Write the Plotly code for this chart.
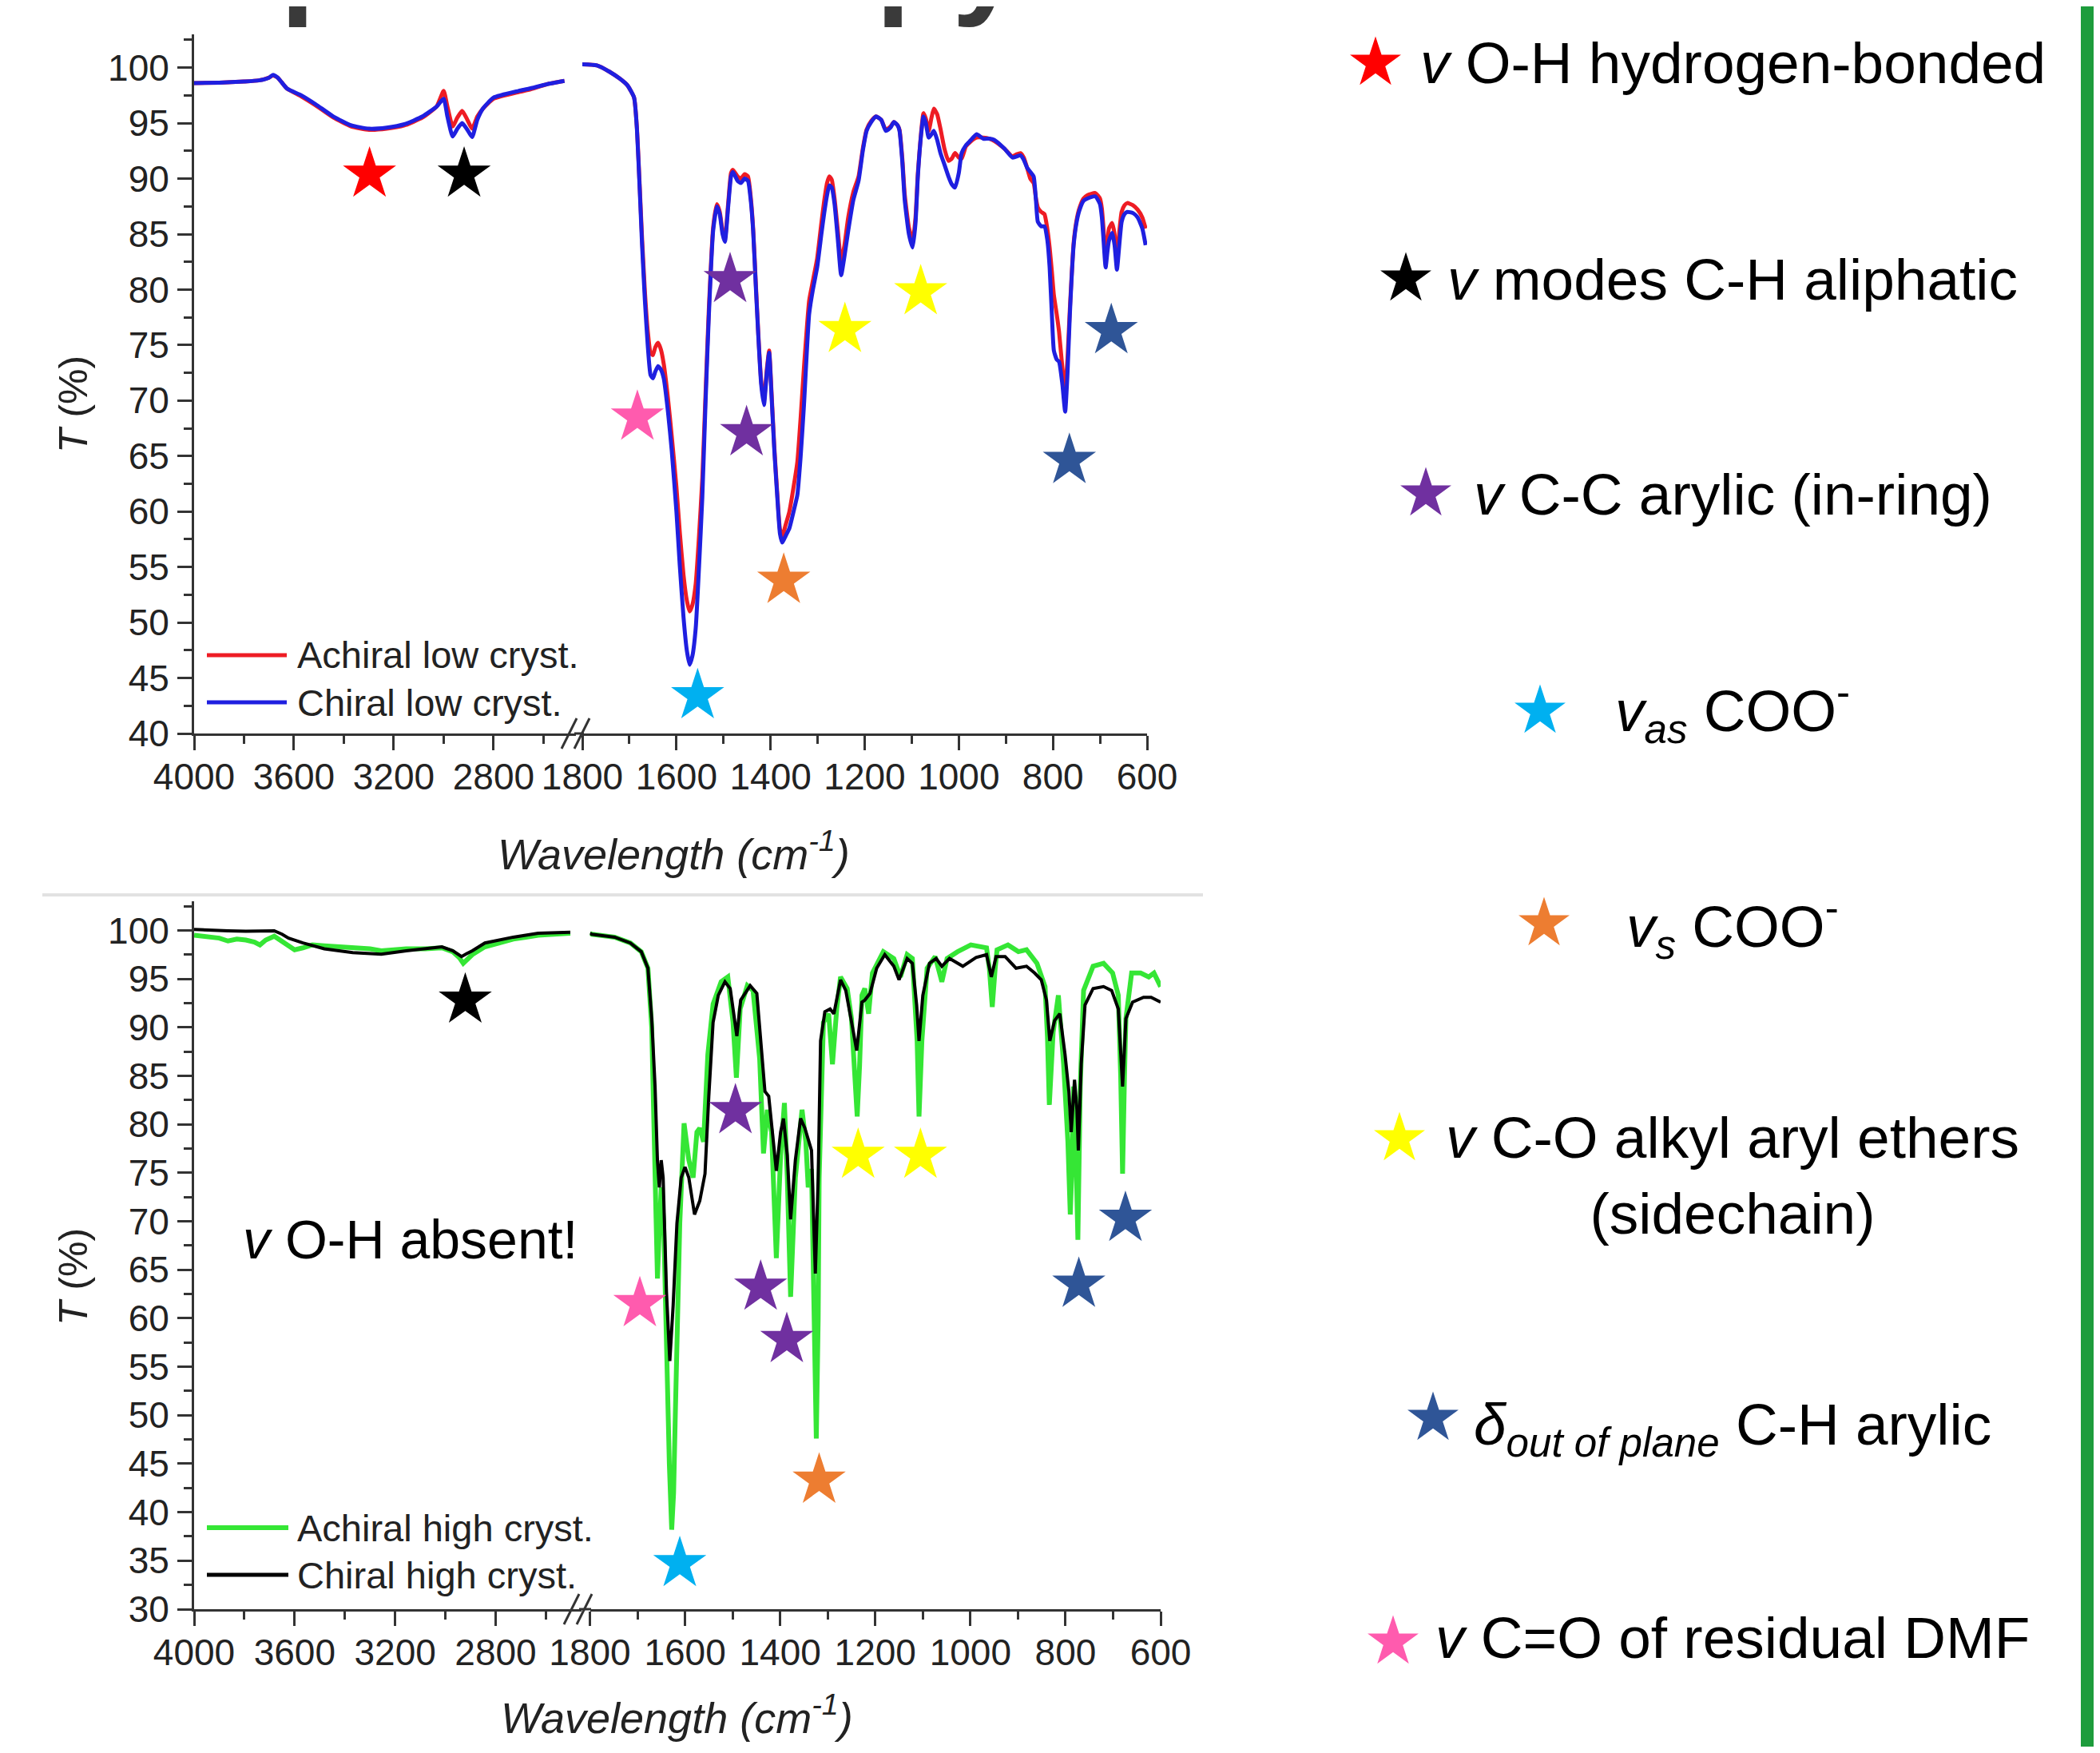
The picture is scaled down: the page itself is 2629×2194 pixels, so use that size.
import plotly.graph_objects as go

# Screen size is 2629x2194; the page body keeps an 8 px margin, so the figure is
# made 8 px smaller on the right and 16 px smaller at the bottom to fit exactly.
SCREEN_W, SCREEN_H, OFF = 2629, 2194, 8
WF, HF = SCREEN_W - OFF, SCREEN_H - 2 * OFF
FONT = "Liberation Sans, Arial, Helvetica, sans-serif"

# ---------------- data (wavenumber cm-1, transmittance %) ----------------
# Top panel, left segment: (wn, achiral low cryst., chiral low cryst.)
TL_LOW = [
    (4000, 98.6, 98.6), (3900, 98.65, 98.65), (3800, 98.75, 98.75), (3741, 98.85, 98.85),
    (3700, 99.1, 99.1), (3684, 99.3, 99.35), (3665, 99.1, 99.1), (3650, 98.7, 98.7),
    (3627, 98.1, 98.1), (3570, 97.4, 97.5), (3513, 96.6, 96.7), (3442, 95.5, 95.6),
    (3370, 94.7, 94.8), (3299, 94.4, 94.5), (3228, 94.5, 94.6), (3157, 94.8, 94.9),
    (3085, 95.5, 95.6), (3028, 96.5, 96.5), (3000, 97.9, 97.2), (2985, 96.5, 95.6),
    (2964, 94.7, 93.8), (2945, 95.5, 94.5), (2926, 96.1, 95.0), (2905, 95.3, 94.4),
    (2886, 94.5, 93.75), (2865, 95.6, 95.3), (2843, 96.3, 96.3), (2800, 97.2, 97.3),
    (2700, 97.8, 97.9), (2658, 98.0, 98.1), (2587, 98.5, 98.5), (2516, 98.8, 98.8),
]
# Top panel, right segment: (wn, achiral low cryst., chiral low cryst.)
TR_LOW = [
    (1800, 100.3, 100.3), (1769, 100.2, 100.2), (1741, 99.6, 99.6), (1720, 99.0, 99.0),
    (1704, 98.4, 98.4), (1690, 97.3, 97.3), (1684, 94.6, 94.5), (1678, 89.3, 89.0),
    (1673, 84.6, 84.0), (1667, 79.8, 79.0), (1661, 76.3, 75.0), (1655, 74.3, 72.3),
    (1650, 74.1, 72.0), (1645, 74.8, 72.6), (1639, 75.2, 73.1), (1633, 74.6, 72.8),
    (1627, 73.3, 72.0), (1618, 70.2, 69.0), (1610, 66.8, 65.5), (1600, 62.2, 60.0),
    (1593, 58.2, 55.2), (1585, 54.3, 50.5), (1578, 52.0, 47.5), (1572, 51.0, 46.2),
    (1566, 51.6, 47.0), (1559, 53.5, 49.5), (1552, 57.8, 55.0), (1545, 63.0, 61.3),
    (1538, 70.8, 70.0), (1531, 78.4, 77.8), (1522, 85.6, 85.3), (1514, 87.7, 87.5),
    (1508, 87.0, 86.8), (1502, 85.3, 85.0), (1497, 84.6, 84.3), (1490, 87.8, 87.5),
    (1484, 90.5, 90.2), (1480, 90.8, 90.6), (1470, 90.2, 89.8), (1463, 90.0, 89.6),
    (1455, 90.4, 90.0), (1448, 90.2, 89.8), (1442, 88.3, 88.0), (1437, 85.5, 85.3),
    (1431, 80.3, 80.0), (1426, 76.0, 75.8), (1420, 71.8, 71.5), (1414, 70.0, 69.6),
    (1408, 72.8, 72.5), (1403, 74.5, 74.3), (1398, 70.8, 70.5), (1392, 65.8, 65.5),
    (1386, 61.8, 61.5), (1380, 58.4, 58.0), (1375, 57.8, 57.2), (1368, 58.8, 57.8),
    (1360, 60.0, 58.5), (1350, 62.5, 60.2), (1343, 64.5, 61.5), (1336, 68.5, 65.0),
    (1329, 73.0, 69.6), (1318, 79.0, 77.8), (1310, 80.8, 80.0), (1301, 82.8, 82.0),
    (1292, 86.0, 85.0), (1286, 88.0, 86.9), (1280, 89.6, 88.5), (1275, 90.2, 89.4),
    (1270, 89.9, 89.2), (1264, 88.2, 87.7), (1257, 85.3, 84.5), (1250, 82.5, 81.3),
    (1243, 84.0, 83.0), (1235, 86.5, 85.3), (1224, 88.8, 88.1), (1213, 90.2, 89.8),
    (1204, 92.7, 92.5), (1196, 94.4, 94.3), (1186, 95.2, 95.1), (1176, 95.6, 95.6),
    (1165, 95.3, 95.3), (1155, 94.4, 94.3), (1145, 94.7, 94.6), (1138, 95.1, 95.1),
    (1130, 94.8, 94.8), (1126, 94.4, 94.3), (1120, 91.8, 91.5), (1115, 88.6, 88.1),
    (1106, 85.6, 85.0), (1098, 84.4, 83.8), (1092, 86.5, 86.0), (1087, 90.5, 90.2),
    (1080, 94.2, 94.0), (1075, 95.9, 95.6), (1070, 95.4, 95.0), (1064, 94.3, 93.7),
    (1058, 95.5, 94.0), (1053, 96.3, 94.3), (1046, 95.8, 93.5), (1039, 94.5, 92.3),
    (1030, 92.6, 91.2), (1022, 91.6, 90.2), (1015, 91.8, 89.5), (1008, 92.3, 89.2),
    (1000, 91.9, 90.5), (994, 91.8, 92.3), (985, 92.9, 93.0), (976, 93.3, 93.4),
    (962, 93.7, 94.0), (948, 93.7, 93.6), (935, 93.6, 93.6), (925, 93.4, 93.5),
    (903, 92.7, 92.7), (886, 92.0, 91.9), (877, 92.2, 92.0), (869, 92.3, 92.1),
    (862, 91.9, 91.7), (855, 91.0, 91.0), (848, 90.0, 90.6), (841, 89.6, 90.2),
    (836, 88.2, 88.0), (832, 87.4, 86.1), (825, 87.0, 85.7), (818, 86.8, 85.7),
    (812, 85.5, 84.5), (807, 83.8, 82.0), (802, 81.5, 77.5), (798, 79.5, 74.5),
    (792, 77.8, 73.7), (787, 76.2, 73.5), (780, 73.0, 71.5), (774, 71.0, 69.0),
    (769, 73.8, 72.5), (764, 78.3, 77.8), (756, 84.2, 84.0), (750, 86.2, 86.0),
    (744, 87.3, 87.1), (735, 88.2, 88.0), (727, 88.5, 88.2), (710, 88.7, 88.4),
    (700, 88.2, 87.7), (696, 87.3, 86.5), (693, 85.8, 84.8), (688, 82.8, 82.0),
    (684, 84.4, 83.5), (681, 85.5, 84.4), (674, 86.0, 85.1), (669, 85.0, 84.0),
    (664, 82.5, 81.8), (659, 85.2, 84.0), (654, 87.0, 86.1), (648, 87.6, 86.8),
    (642, 87.8, 87.0), (630, 87.6, 86.9), (620, 87.2, 86.5), (610, 86.5, 85.5),
    (603, 85.5, 84.0),
]
# Bottom panel, left segment
BL_ACHIRAL_HIGH = [
    (4000, 99.5), (3950, 99.4), (3900, 99.2), (3865, 98.9), (3830, 99.1), (3794, 99.0),
    (3760, 98.8), (3738, 98.5), (3715, 99.0), (3681, 99.4), (3660, 99.0), (3624, 98.4),
    (3600, 98.0), (3567, 98.2), (3530, 98.5), (3482, 98.4), (3420, 98.3), (3369, 98.3),
    (3300, 98.1), (3255, 97.9), (3200, 98.0), (3156, 98.1), (3080, 98.1), (3014, 98.2),
    (2971, 97.8), (2945, 97.2), (2929, 96.6), (2915, 97.0), (2893, 97.5), (2843, 98.3),
    (2790, 98.7), (2730, 99.1), (2680, 99.3), (2631, 99.5), (2503, 99.7),
]
BL_CHIRAL_HIGH = [
    (4000, 100.1), (3900, 99.95), (3865, 99.95), (3794, 99.9), (3740, 99.95), (3681, 99.95),
    (3650, 99.6), (3624, 99.2), (3567, 98.7), (3482, 98.1), (3369, 97.7), (3255, 97.55),
    (3156, 97.9), (3014, 98.3), (2971, 97.9), (2950, 97.5), (2936, 97.3), (2915, 97.6),
    (2893, 97.9), (2843, 98.7), (2730, 99.3), (2631, 99.7), (2503, 99.8),
]
# Bottom panel, right segment
BR_ACHIRAL_HIGH = [
    (1800, 99.7), (1796, 99.6), (1748, 99.3), (1715, 98.7), (1692, 97.8), (1678, 96.1),
    (1670, 90.0), (1665, 80.0), (1661, 71.6), (1658, 64.1), (1655, 68.0), (1650, 73.5),
    (1645, 70.0), (1639, 55.6), (1633, 45.0), (1628, 38.2), (1624, 42.0), (1620, 50.9),
    (1611, 69.8), (1602, 80.1), (1592, 76.3), (1583, 74.5), (1575, 79.2), (1569, 79.6),
    (1561, 78.2), (1552, 87.2), (1541, 92.4), (1524, 94.7), (1510, 95.2), (1499, 90.5),
    (1492, 84.8), (1484, 91.9), (1469, 94.3), (1457, 93.8), (1443, 86.7), (1435, 77.0),
    (1427, 81.5), (1418, 79.2), (1408, 66.2), (1399, 76.8), (1391, 82.2), (1385, 74.5),
    (1378, 62.2), (1368, 74.5), (1354, 81.5), (1346, 78.2), (1341, 73.5), (1334, 75.4),
    (1328, 60.0), (1324, 47.6), (1320, 60.0), (1318, 74.5), (1309, 90.5), (1298, 91.4),
    (1290, 86.2), (1281, 91.9), (1273, 95.2), (1259, 94.0), (1250, 90.9), (1243, 85.0),
    (1238, 80.8), (1233, 86.0), (1228, 93.3), (1222, 94.0), (1214, 91.4), (1206, 95.6),
    (1183, 97.8), (1161, 97.1), (1147, 95.2), (1133, 97.5), (1122, 97.1), (1112, 88.6),
    (1108, 80.8), (1102, 88.6), (1091, 96.1), (1074, 97.3), (1060, 94.7), (1049, 97.1),
    (1027, 97.8), (999, 98.5), (966, 98.2), (960, 96.0), (954, 92.1), (948, 96.0),
    (944, 98.0), (921, 98.5), (899, 97.8), (882, 98.0), (860, 96.6), (843, 94.2),
    (838, 89.0), (834, 82.0), (830, 85.0), (826, 89.5), (815, 93.3), (804, 86.2),
    (795, 78.2), (790, 70.7), (786, 76.0), (783, 83.9), (779, 79.2), (774, 68.1),
    (769, 83.9), (762, 93.8), (742, 96.3), (720, 96.6), (701, 95.6), (689, 93.3),
    (684, 85.0), (680, 74.9), (676, 85.0), (673, 90.9), (661, 95.6), (642, 95.6),
    (625, 95.2), (614, 95.6), (600, 94.2),
]
BR_CHIRAL_HIGH = [
    (1800, 99.7), (1796, 99.6), (1748, 99.3), (1715, 98.7), (1692, 97.8), (1678, 96.1),
    (1670, 90.9), (1663, 83.9), (1658, 76.3), (1654, 73.5), (1650, 76.3), (1646, 74.5),
    (1639, 62.7), (1632, 55.6), (1625, 61.3), (1617, 69.8), (1608, 74.5), (1600, 75.6),
    (1592, 74.5), (1580, 70.7), (1569, 72.1), (1558, 74.9), (1550, 82.9), (1541, 90.5),
    (1530, 93.3), (1516, 94.7), (1505, 94.0), (1497, 91.4), (1491, 89.1), (1483, 92.8),
    (1463, 94.3), (1449, 93.5), (1441, 88.6), (1432, 83.4), (1424, 82.9), (1415, 78.2),
    (1408, 75.2), (1399, 79.2), (1393, 80.6), (1385, 76.8), (1378, 70.2), (1368, 76.3),
    (1357, 80.6), (1348, 79.6), (1340, 78.2), (1334, 77.3), (1326, 64.6), (1320, 74.5),
    (1315, 88.6), (1306, 91.6), (1295, 91.9), (1287, 91.4), (1273, 94.9), (1262, 93.8),
    (1253, 91.4), (1239, 87.6), (1228, 92.6), (1222, 92.8), (1211, 93.5), (1197, 96.1),
    (1180, 97.5), (1161, 96.3), (1150, 94.9), (1133, 97.1), (1122, 96.6), (1113, 92.3),
    (1108, 88.6), (1100, 93.3), (1086, 96.6), (1072, 97.1), (1060, 96.3), (1044, 97.1),
    (1016, 96.3), (988, 97.2), (966, 97.5), (956, 95.2), (946, 97.3), (927, 97.3),
    (904, 96.1), (882, 96.3), (865, 95.6), (851, 94.9), (840, 92.8), (833, 88.6),
    (823, 90.7), (812, 91.4), (801, 87.2), (793, 83.4), (788, 79.2), (781, 84.6),
    (776, 81.5), (773, 77.3), (767, 86.2), (759, 92.3), (742, 94.0), (720, 94.2),
    (703, 93.8), (689, 91.9), (680, 83.9), (673, 90.9), (659, 92.6), (636, 93.1),
    (620, 93.1), (600, 92.6),
]

# Star colours (band assignments)
RED, BLACK, PURPLE, CYAN = "#ff0000", "#000000", "#7030a0", "#00b0f0"
ORANGE, YELLOW, DBLUE, PINK = "#ed7d31", "#ffff00", "#2f5597", "#ff5bae"

# Band markers placed on the spectra: (wn, T, colour)
TOP_LEFT_STARS = [(3297, 90.4, RED), (2918, 90.4, BLACK)]
TOP_RIGHT_STARS = [(1683, 68.5, PINK), (1486, 80.9, PURPLE), (1451, 67.1, PURPLE),
                   (1555, 43.4, CYAN), (1372, 53.8, ORANGE), (1242, 76.4, YELLOW),
                   (1081, 79.8, YELLOW), (765, 64.6, DBLUE), (676, 76.3, DBLUE)]
BOT_LEFT_STARS = [(2921, 92.8, BLACK)]
BOT_RIGHT_STARS = [(1695, 61.5, PINK), (1611, 34.7, CYAN), (1494, 81.4, PURPLE),
                   (1441, 63.2, PURPLE), (1386, 57.8, PURPLE), (1318, 43.3, ORANGE),
                   (1236, 76.8, YELLOW), (1105, 76.8, YELLOW), (772, 63.5, DBLUE),
                   (674, 70.3, DBLUE)]

# Band legend on the right
BAND_COLORS = [RED, BLACK, PURPLE, CYAN, ORANGE, YELLOW, DBLUE, PINK]
BAND_TEXTS = [
    "<i>v</i> O-H hydrogen-bonded",
    "<i>v</i> modes C-H aliphatic",
    "<i>v</i> C-C arylic (in-ring)",
    "<i>v<sub>as</sub></i> COO<sup>-</sup>",
    "<i>v<sub>s</sub></i> COO<sup>-</sup>",
    "<i>v</i> C-O alkyl aryl ethers<br>(sidechain)",
    "<i>δ<sub>out of plane</sub></i> C-H arylic",
    "<i>v</i> C=O of residual DMF",
]
# layout positions (screen px) of the band legend rows
BAND_TEXT_Y = [79, 349, 618, 889, 1159, 1471, 1788, 2049]
BAND_STAR_X = [1722, 1760, 1785, 1928, 1933, 1752, 1794, 1744]
BAND_STAR_Y = [79, 349, 618, 890, 1156, 1425, 1775, 2055]

SERIES_COLORS = {"achiral_low": "#ee1c24", "chiral_low": "#1f1fe0",
                 "achiral_high": "#35e635", "chiral_high": "#000000"}


def fx(px):
    return (px - OFF) / WF


def fy(py):
    return 1 - (py - OFF) / HF


fig = go.Figure()

tl_wn = [p[0] for p in TL_LOW]
tr_wn = [p[0] for p in TR_LOW]
for idx, key, name in [(1, "achiral_low", "Achiral low cryst."), (2, "chiral_low", "Chiral low cryst.")]:
    fig.add_trace(go.Scatter(x=tl_wn, y=[p[idx] for p in TL_LOW], xaxis="x", yaxis="y", mode="lines",
                             line=dict(color=SERIES_COLORS[key], width=5, shape="spline", smoothing=0.5),
                             name=name, showlegend=False))
    fig.add_trace(go.Scatter(x=tr_wn, y=[p[idx] for p in TR_LOW], xaxis="x2", yaxis="y", mode="lines",
                             line=dict(color=SERIES_COLORS[key], width=5, shape="spline", smoothing=0.5),
                             name=name, showlegend=False))

for data_l, data_r, key, width, name in [
        (BL_ACHIRAL_HIGH, BR_ACHIRAL_HIGH, "achiral_high", 6, "Achiral high cryst."),
        (BL_CHIRAL_HIGH, BR_CHIRAL_HIGH, "chiral_high", 4, "Chiral high cryst.")]:
    fig.add_trace(go.Scatter(x=[p[0] for p in data_l], y=[p[1] for p in data_l], xaxis="x3", yaxis="y3",
                             mode="lines", line=dict(color=SERIES_COLORS[key], width=width),
                             name=name, showlegend=False))
    fig.add_trace(go.Scatter(x=[p[0] for p in data_r], y=[p[1] for p in data_r], xaxis="x4", yaxis="y3",
                             mode="lines", line=dict(color=SERIES_COLORS[key], width=width),
                             name=name, showlegend=False))

STAR_SIZE = 50
for stars, xa, ya in [(TOP_LEFT_STARS, "x", "y"), (TOP_RIGHT_STARS, "x2", "y"),
                      (BOT_LEFT_STARS, "x3", "y3"), (BOT_RIGHT_STARS, "x4", "y3")]:
    fig.add_trace(go.Scatter(x=[s[0] for s in stars], y=[s[1] for s in stars], xaxis=xa, yaxis=ya,
                             mode="markers", cliponaxis=False, showlegend=False,
                             marker=dict(symbol="star", size=STAR_SIZE, color=[s[2] for s in stars],
                                         line=dict(width=0))))

# legend stars on an invisible full-figure overlay (screen-pixel coordinates)
fig.add_trace(go.Scatter(x=BAND_STAR_X, y=BAND_STAR_Y, xaxis="x5", yaxis="y5", mode="markers",
                         cliponaxis=False, showlegend=False,
                         marker=dict(symbol="star", size=48, color=BAND_COLORS, line=dict(width=0))))

tickfont = dict(family=FONT, size=46, color="#222222")
base = dict(showline=True, linecolor="#333333", linewidth=3, ticks="outside", ticklen=18, tickwidth=3,
            tickcolor="#333333", showgrid=False, zeroline=False, tickfont=tickfont, fixedrange=True,
            automargin=False)
minor = dict(ticks="outside", ticklen=10, tickwidth=3, tickcolor="#333333", showgrid=False)
XSTAND, YSTAND = -6, 1

fig.update_layout(
    template="none",
    width=WF, height=HF, margin=dict(l=0, r=0, t=0, b=0, pad=0, autoexpand=False),
    paper_bgcolor="white", plot_bgcolor="rgba(0,0,0,0)", showlegend=False,
    xaxis=dict(base, domain=[fx(243), fx(721)], range=[4000, 2470], anchor="y",
               tickmode="array", tickvals=[4000, 3600, 3200, 2800], ticklabelstandoff=XSTAND,
               minor=dict(minor, tickmode="array", tickvals=[3800, 3400, 3000, 2600])),
    xaxis2=dict(base, domain=[fx(729), fx(1436)], range=[1800, 600], anchor="y",
                tickmode="array", tickvals=[1800, 1600, 1400, 1200, 1000, 800, 600], ticklabelstandoff=XSTAND,
                minor=dict(minor, tickmode="array", tickvals=[1700, 1500, 1300, 1100, 900, 700])),
    yaxis=dict(base, domain=[fy(918), fy(43)], range=[40, 103], anchor="x",
               tickmode="array", tickvals=list(range(40, 101, 5)), ticklabelstandoff=YSTAND,
               minor=dict(minor, tickmode="array", tickvals=[v + 2.5 for v in range(40, 101, 5)])),
    xaxis3=dict(base, domain=[fx(243), fx(727.5)], range=[4000, 2460], anchor="y3",
                tickmode="array", tickvals=[4000, 3600, 3200, 2800], ticklabelstandoff=XSTAND,
                minor=dict(minor, tickmode="array", tickvals=[3800, 3400, 3000, 2600])),
    xaxis4=dict(base, domain=[fx(738.5), fx(1453)], range=[1800, 600], anchor="y3",
                tickmode="array", tickvals=[1800, 1600, 1400, 1200, 1000, 800, 600], ticklabelstandoff=XSTAND,
                minor=dict(minor, tickmode="array", tickvals=[1700, 1500, 1300, 1100, 900, 700])),
    yaxis3=dict(base, domain=[fy(2014), fy(1128)], range=[30, 103], anchor="x3",
                tickmode="array", tickvals=list(range(30, 101, 5)), ticklabelstandoff=YSTAND,
                minor=dict(minor, tickmode="array", tickvals=[v + 2.5 for v in range(30, 101, 5)])),
    xaxis5=dict(domain=[0, 1], range=[OFF, OFF + WF], anchor="y5", visible=False, fixedrange=True,
                automargin=False),
    yaxis5=dict(domain=[0, 1], range=[OFF + HF, OFF], anchor="x5", visible=False, fixedrange=True,
                automargin=False),
)

shapes = []
# axis break connectors and "//" marks
for ay, xa, xb in [(918, 719, 731), (2014, 725, 740)]:
    shapes.append(dict(type="line", xref="paper", yref="paper", x0=fx(xa), x1=fx(xb), y0=fy(ay), y1=fy(ay),
                       line=dict(color="#333333", width=3)))
for ay, x0 in [(918, 703), (2014, 706)]:
    for dx in (0, 16):
        shapes.append(dict(type="line", xref="paper", yref="paper",
                           x0=fx(x0 + dx), y0=fy(ay + 19), x1=fx(x0 + dx + 19), y1=fy(ay - 19),
                           line=dict(color="#333333", width=3)))
# in-plot legend samples
for y, key, x1 in [(820, "achiral_low", 359), (879, "chiral_low", 359),
                   (1912, "achiral_high", 361), (1971, "chiral_high", 361)]:
    shapes.append(dict(type="line", xref="paper", yref="paper", x0=fx(259), x1=fx(x1), y0=fy(y), y1=fy(y),
                       line=dict(color=SERIES_COLORS[key], width=5 if key != "achiral_high" else 6)))
# divider between the two panels
shapes.append(dict(type="line", xref="paper", yref="paper", x0=fx(53), x1=fx(1506), y0=fy(1120), y1=fy(1120),
                   line=dict(color="#e2e2e2", width=4)))
# green frame edge on the right
shapes.append(dict(type="rect", xref="paper", yref="paper", x0=fx(2605), x1=1, y0=0, y1=1,
                   fillcolor="#1d9c3c", line=dict(width=0)))
fig.update_layout(shapes=shapes)

ann = []
txt = dict(family=FONT, color="#222222")
for y, s in [(820, "Achiral low cryst."), (879, "Chiral low cryst."),
             (1912, "Achiral high cryst."), (1971, "Chiral high cryst.")]:
    ann.append(dict(xref="paper", yref="paper", x=fx(370), y=fy(y), xanchor="left", yanchor="middle",
                    text=s, showarrow=False, font=dict(txt, size=47)))
for x, y in [(843, 1065), (848, 2146)]:
    ann.append(dict(xref="paper", yref="paper", x=fx(x), y=fy(y), xanchor="center", yanchor="middle",
                    text="<i>Wavelength (cm<sup>-1</sup>)</i>", showarrow=False, font=dict(txt, size=54)))
for y in [506, 1598]:
    ann.append(dict(xref="paper", yref="paper", x=fx(92), y=fy(y), xanchor="center", yanchor="middle",
                    text="<i>T</i> (%)", textangle=-90, showarrow=False, font=dict(txt, size=50)))
ann.append(dict(xref="paper", yref="paper", x=fx(514), y=fy(1551), xanchor="center", yanchor="middle",
                text="<i>v</i> O-H absent!", showarrow=False, font=dict(family=FONT, size=68, color="#000")))
for t, y in zip(BAND_TEXTS, BAND_TEXT_Y):
    ann.append(dict(xref="paper", yref="paper", x=fx(2169), y=fy(y), xanchor="center", yanchor="middle",
                    text=t, showarrow=False, align="center", font=dict(family=FONT, size=73, color="#000")))
# title, cut off by the top edge of the picture (only the descenders show)
ann.append(dict(xref="paper", yref="paper", x=fx(245), y=fy(37), xanchor="left", yanchor="bottom",
                text="<b>Spectroscopy</b>", showarrow=False,
                font=dict(family=FONT, size=156, color="#3a3a3a")))
fig.update_layout(annotations=ann)

fig.write_html("out.html")
